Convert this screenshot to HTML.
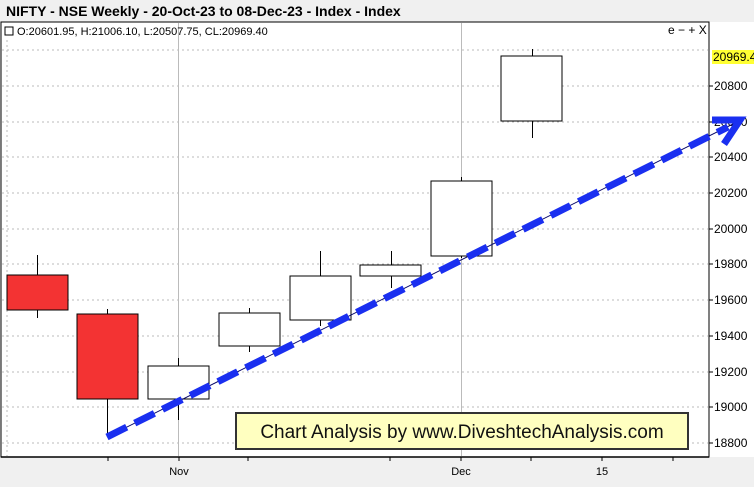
<!DOCTYPE html>
<html><head><style>
body{margin:0;width:754px;height:482px;overflow:hidden;background:#f0f0f0;font-family:"Liberation Sans",sans-serif;}
</style></head><body>
<svg width="754" height="482" xmlns="http://www.w3.org/2000/svg" font-family="Liberation Sans, sans-serif">
<rect x="0" y="0" width="754" height="482" fill="#f0f0f0"/>
<text x="6" y="16" font-size="14" font-weight="bold" fill="#000">NIFTY - NSE Weekly - 20-Oct-23 to 08-Dec-23 - Index - Index</text>
<rect x="1" y="22" width="708" height="435" fill="#fff" stroke="#000" stroke-width="1"/>
<rect x="709" y="22" width="45" height="435" fill="#fff"/>
<line x1="709" y1="22" x2="709" y2="457" stroke="#000"/>
<line x1="1" y1="457" x2="709" y2="457" stroke="#000" stroke-width="1.5"/>
<g stroke="#bbb" stroke-dasharray="2,3">
<line x1="2" x2="708" y1="443" y2="443"/><line x1="2" x2="708" y1="407" y2="407"/>
<line x1="2" x2="708" y1="372" y2="372"/><line x1="2" x2="708" y1="336" y2="336"/>
<line x1="2" x2="708" y1="300" y2="300"/><line x1="2" x2="708" y1="264" y2="264"/>
<line x1="2" x2="708" y1="229" y2="229"/><line x1="2" x2="708" y1="193" y2="193"/>
<line x1="2" x2="708" y1="157" y2="157"/><line x1="2" x2="708" y1="122" y2="122"/>
<line x1="2" x2="708" y1="86" y2="86"/><line x1="2" x2="708" y1="50" y2="50"/>
<line x1="7" x2="7" y1="40" y2="456"/>
</g>
<line x1="178.5" x2="178.5" y1="23" y2="456" stroke="#bbb"/>
<line x1="461.5" x2="461.5" y1="23" y2="456" stroke="#bbb"/>
<g stroke="#000" stroke-width="1">
<line x1="108" x2="108" y1="457" y2="461"/><line x1="179" x2="179" y1="457" y2="461"/>
<line x1="248" x2="248" y1="457" y2="461"/><line x1="390" x2="390" y1="457" y2="461"/>
<line x1="461" x2="461" y1="457" y2="461"/><line x1="531" x2="531" y1="457" y2="461"/>
<line x1="602" x2="602" y1="457" y2="461"/><line x1="673" x2="673" y1="457" y2="461"/>
</g>
<g font-size="11" fill="#000" text-anchor="middle">
<text x="179" y="475">Nov</text><text x="461" y="475">Dec</text><text x="602" y="475">15</text>
</g>
<g font-size="12" fill="#000">
<text x="714" y="447">18800</text><text x="714" y="411">19000</text><text x="714" y="376">19200</text>
<text x="714" y="340">19400</text><text x="714" y="304">19600</text><text x="714" y="268">19800</text>
<text x="714" y="233">20000</text><text x="714" y="197">20200</text><text x="714" y="161">20400</text>
<text x="714" y="126">20600</text><text x="714" y="90">20800</text>
</g>
<g stroke="#000">
<line x1="709" x2="713" y1="443" y2="443"/><line x1="709" x2="713" y1="407" y2="407"/><line x1="709" x2="713" y1="372" y2="372"/>
<line x1="709" x2="713" y1="336" y2="336"/><line x1="709" x2="713" y1="300" y2="300"/><line x1="709" x2="713" y1="264" y2="264"/>
<line x1="709" x2="713" y1="229" y2="229"/><line x1="709" x2="713" y1="193" y2="193"/><line x1="709" x2="713" y1="157" y2="157"/>
<line x1="709" x2="713" y1="122" y2="122"/><line x1="709" x2="713" y1="86" y2="86"/>
</g>
<rect x="712" y="50" width="42" height="14" fill="#ffff33"/>
<text x="713" y="61" font-size="12" fill="#000">20969.4</text>
<rect x="5" y="27" width="8" height="8" fill="none" stroke="#000"/>
<text x="17" y="35" font-size="11" fill="#000">O:20601.95, H:21006.10, L:20507.75, CL:20969.40</text>
<text x="668" y="34" font-size="12" fill="#000">e − + X</text>
<g stroke="#000" stroke-width="1">
<line x1="37.5" x2="37.5" y1="255" y2="318"/><rect x="7" y="275" width="61" height="35" fill="#f33333"/>
<line x1="107.5" x2="107.5" y1="309" y2="437"/><rect x="77" y="314" width="61" height="85" fill="#f33333"/>
<line x1="178.5" x2="178.5" y1="358" y2="420"/><rect x="148" y="366" width="61" height="33" fill="#fff"/>
<line x1="249.5" x2="249.5" y1="308" y2="352"/><rect x="219" y="313" width="61" height="33" fill="#fff"/>
<line x1="320.5" x2="320.5" y1="251" y2="326"/><rect x="290" y="276" width="61" height="44" fill="#fff"/>
<line x1="391.5" x2="391.5" y1="251" y2="288"/><rect x="360" y="265" width="61" height="11" fill="#fff"/>
<line x1="461.5" x2="461.5" y1="177" y2="258"/><rect x="431" y="181" width="61" height="75" fill="#fff"/>
<line x1="532.5" x2="532.5" y1="49" y2="138"/><rect x="501" y="56" width="61" height="65" fill="#fff"/>
</g>
<line x1="107" y1="437" x2="735" y2="123" stroke="#000066" stroke-width="1"/>
<line x1="107" y1="437" x2="728" y2="127" stroke="#1a2ff0" stroke-width="7" stroke-dasharray="22,9"/>
<polyline points="712,120 740,120 724,144" fill="none" stroke="#1a2ff0" stroke-width="7"/>
<rect x="236" y="413" width="452" height="36" fill="#ffffc0" stroke="#333" stroke-width="2"/>
<text x="462" y="438" font-size="19" fill="#111" text-anchor="middle">Chart Analysis by www.DiveshtechAnalysis.com</text>
</svg>
</body></html>
